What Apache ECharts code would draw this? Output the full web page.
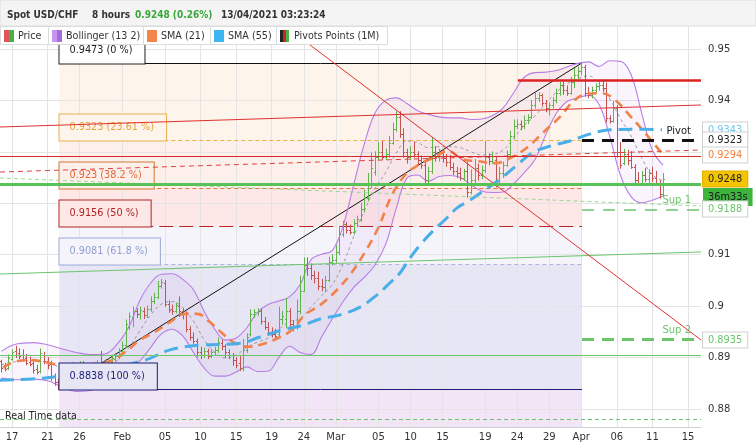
<!DOCTYPE html>
<html><head><meta charset="utf-8">
<script src="https://cdn.jsdelivr.net/npm/echarts@6/dist/echarts.min.js"></script>
<style>html,body{margin:0;padding:0;background:#fff}#c{width:756px;height:445px}</style>
</head><body><div id="c"></div>
<script>
// ---------------- DATA ----------------
// x axis = index of 8-hour bars (0 = Sun 17 Jan 2021, 23h)
const dateLabels   = ['17','21','26','Feb','05','10','15','19','24','Mar','05','10','15','19','24','29','Apr','06','11','15'];
const dateLabelIdx = [0,10,19,31,43,53,63,73,82,91,103,112,121,133,142,151,160,170,180,190];
const yTicks       = [0.88,0.89,0.90,0.91,0.92,0.93,0.94,0.95];
const yLabelValues = [0.88,0.89,0.90,0.91,0.94,0.95];
const X_MIN = -3.373, X_MAX = 193.65, Y_MIN = 0.8765, Y_MAX = 0.95447;
const firstBarIdx = -3;

const opens = [
.8893,.8885,.8880,.8898,.8912,.8908,.8905,.8900,.8892,.8890,
.8878,.8874,.8905,.8893,.8887,.8862,.8852,.8845,.8852,.8860,
.8868,.8880,.8875,.8888,.8880,.8872,.8884,.8878,.8890,.8886,
.8884,.8892,.8898,.8902,.8912,.8925,.8960,.8978,.8990,.8985,
.8990,.8982,.8995,.9010,.9018,.9040,.9045,.9005,.8995,.8990,
.9000,.8990,.8985,.8955,.8940,.8932,.8910,.8905,.8912,.8904,
.8910,.8915,.8928,.8922,.8910,.8905,.8895,.8890,.8880,.8915,
.8945,.8985,.8988,.8990,.8972,.8960,.8950,.8946,.8945,.8975,
.8975,.8990,.8965,.8960,.8990,.9030,.9080,.9075,.9060,.9055,
.9040,.9038,.9050,.9085,.9090,.9105,.9140,.9160,.9148,.9145,
.9162,.9170,.9188,.9210,.9235,.9260,.9290,.9300,.9290,.9295,
.9318,.9345,.9368,.9335,.9300,.9290,.9300,.9296,.9285,.9275,
.9245,.9262,.9300,.9290,.9298,.9288,.9280,.9270,.9262,.9258,
.9250,.9262,.9222,.9245,.9268,.9255,.9265,.9290,.9282,.9285,
.9240,.9258,.9275,.9295,.9330,.9350,.9355,.9350,.9362,.9368,
.9392,.9405,.9410,.9395,.9385,.9392,.9400,.9415,.9430,.9420,
.9415,.9435,.9450,.9458,.9465,.9415,.9410,.9420,.9428,.9430,
.9425,.9365,.9360,.9385,.9300,.9278,.9295,.9285,.9270,.9245,
.9240,.9255,.9248,.9258,.9250,.9240,.9218];
const highs = [
.8895,.8889,.8905,.8915,.8922,.8917,.8915,.8906,.8901,.8896,
.8885,.8917,.8910,.8900,.8893,.8868,.8858,.8860,.8866,.8874,
.8890,.8888,.8892,.8892,.8886,.8888,.8890,.8894,.8912,.8895,
.8897,.8905,.8908,.8917,.8930,.8973,.8987,.8998,.8995,.8998,
.8996,.9000,.9018,.9025,.9048,.9052,.9050,.9010,.9002,.9006,
.9018,.8995,.8988,.8960,.8948,.8936,.8920,.8918,.8916,.8916,
.8920,.8938,.8934,.8925,.8915,.8908,.8900,.8902,.8935,.8946,
.8993,.8993,.8995,.8994,.8978,.8968,.8958,.8955,.8998,.8990,
.9015,.8995,.8972,.9012,.9058,.9094,.9094,.9082,.9068,.9066,
.9052,.9058,.9095,.9100,.9118,.9155,.9165,.9163,.9158,.9168,
.9175,.9200,.9226,.9258,.9298,.9300,.9318,.9320,.9305,.9330,
.9356,.9378,.9378,.9345,.9305,.9310,.9318,.9300,.9292,.9282,
.9270,.9328,.9310,.9305,.9304,.9295,.9293,.9278,.9270,.9268,
.9266,.9280,.9265,.9285,.9276,.9272,.9320,.9296,.9300,.9290,
.9270,.9280,.9302,.9340,.9362,.9362,.9360,.9370,.9372,.9400,
.9415,.9415,.9412,.9400,.9395,.9405,.9422,.9435,.9437,.9428,
.9445,.9462,.9465,.9473,.9468,.9425,.9426,.9432,.9436,.9440,
.9434,.9370,.9398,.9390,.9318,.9305,.9303,.9300,.9275,.9260,
.9262,.9268,.9265,.9270,.9262,.9244,.9258];
const lows = [
.8872,.8874,.8877,.8895,.8900,.8898,.8893,.8886,.8884,.8870,
.8868,.8870,.8888,.8878,.8856,.8846,.8838,.8840,.8848,.8855,
.8862,.8868,.8870,.8872,.8866,.8868,.8870,.8874,.8882,.8876,
.8878,.8888,.8893,.8898,.8905,.8920,.8955,.8960,.8978,.8975,
.8976,.8978,.8990,.9005,.9015,.9035,.9000,.8988,.8984,.8987,
.8980,.8975,.8950,.8934,.8928,.8902,.8898,.8900,.8898,.8900,
.8905,.8910,.8915,.8900,.8898,.8885,.8880,.8875,.8874,.8910,
.8942,.8978,.8982,.8965,.8955,.8944,.8940,.8938,.8942,.8965,
.8958,.8958,.8952,.8955,.8985,.9028,.9060,.9052,.9045,.9032,
.9030,.9028,.9048,.9080,.9085,.9100,.9135,.9142,.9140,.9140,
.9155,.9165,.9183,.9205,.9230,.9255,.9285,.9285,.9285,.9290,
.9315,.9340,.9328,.9290,.9278,.9285,.9290,.9275,.9268,.9240,
.9240,.9258,.9282,.9282,.9280,.9272,.9265,.9256,.9250,.9245,
.9245,.9212,.9218,.9240,.9245,.9248,.9260,.9275,.9278,.9232,
.9236,.9250,.9272,.9290,.9325,.9345,.9343,.9345,.9355,.9365,
.9385,.9398,.9390,.9378,.9372,.9385,.9395,.9410,.9412,.9410,
.9412,.9425,.9442,.9450,.9408,.9405,.9405,.9415,.9420,.9418,
.9358,.9356,.9358,.9290,.9268,.9275,.9275,.9268,.9240,.9236,
.9238,.9242,.9240,.9242,.9235,.9210,.9215];
const closes = [
.8880,.8878,.8900,.8910,.8905,.8903,.8898,.8890,.8888,.8875,
.8872,.8908,.8893,.8885,.8862,.8852,.8845,.8852,.8860,.8868,
.8880,.8875,.8888,.8880,.8872,.8884,.8878,.8890,.8886,.8884,
.8893,.8900,.8903,.8912,.8925,.8965,.8980,.8990,.8985,.8992,
.8982,.8995,.9010,.9018,.9040,.9046,.9005,.8992,.8990,.9002,
.8990,.8985,.8955,.8940,.8932,.8910,.8905,.8912,.8904,.8910,
.8915,.8930,.8922,.8910,.8905,.8895,.8885,.8880,.8915,.8940,
.8985,.8988,.8990,.8972,.8960,.8950,.8946,.8942,.8975,.8980,
.8990,.8965,.8960,.8990,.9030,.9080,.9075,.9060,.9055,.9040,
.9038,.9050,.9085,.9090,.9105,.9140,.9160,.9148,.9145,.9162,
.9170,.9188,.9210,.9235,.9268,.9290,.9300,.9290,.9295,.9318,
.9345,.9368,.9335,.9300,.9290,.9300,.9296,.9285,.9275,.9245,
.9262,.9300,.9290,.9298,.9288,.9280,.9270,.9262,.9258,.9250,
.9262,.9222,.9245,.9268,.9255,.9265,.9290,.9282,.9292,.9240,
.9258,.9275,.9295,.9330,.9350,.9355,.9350,.9362,.9368,.9392,
.9405,.9410,.9395,.9385,.9392,.9400,.9415,.9430,.9420,.9415,
.9435,.9450,.9458,.9465,.9415,.9410,.9420,.9428,.9430,.9425,
.9365,.9360,.9385,.9300,.9275,.9295,.9285,.9270,.9245,.9240,
.9255,.9248,.9258,.9250,.9240,.9218,.9248];

// Bollinger (13,2)
const bbX = [-3,1,6,10,14,18,22,26,30,33,36,39,42,45,48,51,54,57,60,63,66,69,72,75,78,81,84,87,90,93,96,99,102,105,108,111,114,117,120,123,126,129,132,135,138,141,144,147,150,153,156,159,162,165,168,171,174,177,180,183];
const bbUpper = [.8912,.8926,.8929,.8925,.8917,.8910,.8906,.8907,.8930,.8962,.9012,.9045,.9062,.9063,.9052,.9032,.8990,.8955,.8934,.8938,.8958,.8988,.9003,.9010,.9018,.9042,.9090,.9101,.9108,.9155,.9235,.9315,.9375,.9400,.9405,.9394,.9380,.9373,.9368,.9366,.9366,.9363,.9364,.9370,.9385,.9415,.9445,.9454,.9455,.9458,.9465,.9472,.9475,.9466,.9477,.9476,.9450,.9375,.9303,.9274];
const bbMid   = [.8886,.8892,.8894,.8890,.8880,.8872,.8871,.8876,.8897,.8920,.8953,.8983,.9004,.9009,.8997,.8971,.8935,.8910,.8899,.8905,.8920,.8930,.8938,.8955,.8970,.8976,.8998,.9020,.9042,.9081,.9135,.9185,.9228,.9260,.9297,.9321,.9318,.9308,.9310,.9310,.9308,.9300,.9294,.9295,.9303,.9326,.9352,.9370,.9394,.9416,.9432,.9442,.9448,.9432,.9403,.9365,.9331,.9288,.9255,.9244];
const bbLower = [.8860,.8857,.8858,.8855,.8843,.8834,.8836,.8845,.8864,.8878,.8894,.8920,.8946,.8955,.8942,.8910,.8880,.8864,.8864,.8872,.8882,.8873,.8874,.8900,.8922,.8910,.8906,.8940,.8975,.9008,.9036,.9056,.9080,.9120,.9190,.9249,.9255,.9243,.9252,.9254,.9250,.9236,.9224,.9221,.9222,.9238,.9260,.9285,.9333,.9375,.9398,.9405,.9410,.9392,.9330,.9255,.9213,.9201,.9206,.9214];

// SMA lines: [bar index, value]
const sma21 = [[-2.5,.8880],[0.3,.8891],[5.1,.8895],[10.7,.8889],[19.1,.8876],[27.5,.8893],[31.8,.8911],[36,.8934],[40.2,.8950],[44.4,.8969],[48.6,.8985],[52,.8985],[55.6,.8969],[59,.8948],[62.7,.8928],[66.3,.8921],[70.3,.8926],[74.8,.8938],[78.7,.8954],[82.3,.8983],[86.6,.9002],[90.8,.9028],[95,.9061],[99.2,.9105],[102.9,.9152],[106.8,.9216],[110.5,.9255],[114.1,.9274],[118.9,.9290],[122.5,.9302],[126.5,.9286],[130.7,.9282],[135.8,.9278],[140,.9288],[144.7,.9308],[149.2,.9337],[154,.9368],[158.2,.9401],[161.9,.9413],[165.8,.9414],[169.5,.9401],[173.7,.9370],[177.9,.9337],[183,.9294]];
const sma55 = [[-3.4,.8856],[8.7,.8860],[24.7,.8876],[37.4,.8895],[44.4,.8915],[52.8,.8924],[64.1,.8928],[69.7,.8940],[76.2,.8954],[81.8,.8963],[86.6,.8975],[92.2,.8983],[97.8,.8998],[102.6,.9022],[106.2,.9045],[109,.9064],[111.9,.9094],[114.7,.9119],[118,.9144],[121.7,.9168],[125.1,.9191],[128.7,.9206],[132.9,.9226],[137.2,.9247],[141.9,.9274],[146.2,.9298],[151.2,.9311],[156.8,.9321],[162.5,.9335],[168.1,.9343],[175.1,.9344],[182.7,.9343]];

// Fibonacci retracement
const fibLevels = [0.9473, 0.9323, 0.923, 0.9156, 0.9081, 0.8838];
const fibPct    = ['0 %', '23.61 %', '38.2 %', '50 %', '61.8 %', '100 %'];
const fibStartIdx = 13.3, fibEndIdx = 160.2;

// Pivot points (1M)
const pivotNames  = ['Pivot', 'Sup 1', 'Sup 2'];
const pivotValues = [0.9323, 0.9188, 0.8935];
const pivotStartIdx = 160.2;

// Drawn lines: [[x1, y1], [x2, y2]]
const redChannelTop   = [[X_MIN, 0.93483], [X_MAX, 0.93911]];
const redDashedLine   = [[X_MIN, 0.92608], [X_MAX, 0.93036]];
const redFlatLine     = [[X_MIN, 0.92919], [X_MAX, 0.92919]];
const redDownTrend    = [[76.7, 0.95447], [X_MAX, 0.89342]];
const redResistance   = [[142.2, 0.9440], [X_MAX, 0.9440]];
const greenSupport    = [[X_MIN, 0.92375], [X_MAX, 0.92375]];
const greenRising     = [[X_MIN, 0.90625], [X_MAX, 0.91053]];
const greenFlat       = [[X_MIN, 0.8905], [X_MAX, 0.8905]];
const greenDashedDown = [[X_MIN, 0.92492], [X_MAX, 0.91947]];
const greenRealTime   = [[X_MIN, 0.8781], [X_MAX, 0.8781]];
const blackUpTrend    = [[13.3, 0.8838], [160.2, 0.9473]];

// Price tags at right
const tagValues = [0.9343, 0.9323, 0.9294, 0.9248, 0.9188, 0.8935];
const lastPrice = 0.9248;
const countdown = '36m33s';

const headerTexts = ['Spot USD/CHF', '8 hours', '0.9248 (0.26%)', '13/04/2021 03:23:24'];
const legendNames = ['Price', 'Bollinger (13 2)', 'SMA (21)', 'SMA (55)', 'Pivots Points (1M)'];

// ---------------- CHART ----------------
const FONT = '"DejaVu Sans", Verdana, sans-serif';
const HFONT = '"DejaVu Sans Condensed", "DejaVu Sans", sans-serif';
const GREEN = '#5fb34b', RED = '#c4524f';
const chart = echarts.init(document.getElementById('c'), null, {renderer: 'canvas'});

const ohlc = opens.map((o, k) => [firstBarIdx + k, o, closes[k], lows[k], highs[k]]);

const zoneColors = ['#fdf4eb', '#fdefe9', '#fde7e7', '#f5f4fb', '#e7e6f4'];
const zoneData = [];
for (let k = 0; k < fibLevels.length - 1; k++) {
  zoneData.push([{xAxis: fibStartIdx, yAxis: fibLevels[k], itemStyle: {color: zoneColors[k]}},
                 {xAxis: fibEndIdx, yAxis: fibLevels[k + 1]}]);
}
zoneData.push([{xAxis: fibStartIdx, yAxis: fibLevels[fibLevels.length - 1], itemStyle: {color: '#f2e5f5'}},
               {xAxis: fibEndIdx, yAxis: Y_MIN}]);

const fibLineStyles = [
  {color: '#111', width: 1, type: 'solid'},
  {color: '#f0b040', width: 1, type: [4, 3]},
  {color: '#e0783a', width: 1, type: [4, 3]},
  {color: '#b32424', width: 1.2, type: [14, 6]},
  {color: '#aab4dd', width: 1, type: [4, 3]},
  {color: '#1d1d78', width: 1, type: 'solid'}
];
const fibTextColors = ['#222', '#e8a33a', '#e0683a', '#b32424', '#8f9fd0', '#1d1d78'];
const fibBorderColors = ['#222', '#e8b050', '#d07a35', '#b32424', '#9aaad5', '#1d1d78'];
const fibBoxFill = ['#ffffff'].concat(zoneColors);

function seg(pts, style, label) {
  return [{coord: pts[0], lineStyle: style, label: label || {show: false}}, {coord: pts[1]}];
}
// fib tool lines (under the fib labels)
const fibMarks = [];
fibLevels.forEach((v, k) => fibMarks.push(seg([[fibStartIdx, v], [fibEndIdx, v]], fibLineStyles[k])));
fibMarks.push(seg(blackUpTrend, {color: '#111', width: 1, type: 'solid'}));
// user drawings (over the fib labels)
const lineMarks = [];
lineMarks.push(seg(redChannelTop, {color: '#e03030', width: 1, type: 'solid'}));
lineMarks.push(seg(redDashedLine, {color: '#e04040', width: 1, type: [5, 4]}));
lineMarks.push(seg(redFlatLine, {color: '#d42a2a', width: 1, type: 'solid'}));
lineMarks.push(seg(greenRising, {color: '#6cc46c', width: 1, type: 'solid'}));
lineMarks.push(seg(greenFlat, {color: '#6cc46c', width: 1, type: 'solid'}));
lineMarks.push(seg(greenDashedDown, {color: '#9ad89a', width: 1, type: [4, 3]}));
lineMarks.push(seg(greenRealTime, {color: '#6cc46c', width: 1, type: [4, 3]}));
lineMarks.push(seg(redDownTrend, {color: '#e03030', width: 1, type: 'solid'}));
lineMarks.push(seg(greenSupport, {color: '#58c258', width: 3, type: 'solid'}));
lineMarks.push(seg(redResistance, {color: '#dd2222', width: 2.5, type: 'solid'}));
const pivotStyles = [
  {color: '#111', width: 3, type: [12, 8]},
  {color: '#6cc46c', width: 1.5, type: [12, 9]},
  {color: '#6cc46c', width: 3, type: [12, 8]}
];
const pivotLabelColors = ['#222', '#6cc46c', '#6cc46c'];
pivotValues.forEach((v, k) => lineMarks.push(seg([[pivotStartIdx, v], [X_MAX, v]], pivotStyles[k],
  {show: true, position: 'insideEndTop', formatter: pivotNames[k], color: pivotLabelColors[k],
   fontFamily: FONT, fontSize: 10, distance: [10, 4]})));

const tagStyles = [
  {fill: '#6cc8f0', bg: '#fff'}, {fill: '#222', bg: '#fff'}, {fill: '#f0803c', bg: '#fff'},
  {fill: '#222', bg: '#f5c400'}, {fill: '#6cc46c', bg: '#fff'}, {fill: '#6cc46c', bg: '#fff'}
];

const legendCells = [[0, 48], [48, 143], [143, 210], [210, 276], [276, 387]];
const legendIcons = [['#e05555', '#48b048', null], ['#c795ee', '#a86bdc', null], ['#f5844c', '#f5844c', null],
                     ['#3db5f0', '#3db5f0', null], ['#222', '#cc2222', '#48b048']];
const graphics = [
  {type: 'rect', z: 100, shape: {x: 0, y: 0, width: 756, height: 26}, style: {fill: '#f4f4f4', stroke: '#dedede'}},
];
const hx = [7, 92, 135, 221];
headerTexts.forEach((t, k) => graphics.push({type: 'text', z: 101, style: {text: t, x: hx[k], y: 15,
  font: 'bold 10px ' + HFONT, fill: k === 2 ? '#3aa83a' : '#333', verticalAlign: 'middle', align: 'left'}}));
legendCells.forEach((c, k) => {
  graphics.push({type: 'rect', z: 100, shape: {x: c[0] + 0.5, y: 26.5, width: c[1] - c[0], height: 18},
    style: {fill: '#fff', stroke: '#dcdcdc'}});
  const ic = legendIcons[k];
  if (ic[2]) {
    graphics.push({type: 'rect', z: 101, shape: {x: c[0] + 4, y: 30, width: 3, height: 12}, style: {fill: ic[0]}});
    graphics.push({type: 'rect', z: 101, shape: {x: c[0] + 7, y: 30, width: 3, height: 12}, style: {fill: ic[1]}});
    graphics.push({type: 'rect', z: 101, shape: {x: c[0] + 10, y: 30, width: 3, height: 12}, style: {fill: ic[2]}});
  } else {
    graphics.push({type: 'rect', z: 101, shape: {x: c[0] + 4, y: 30, width: 5, height: 12}, style: {fill: ic[0]}});
    graphics.push({type: 'rect', z: 101, shape: {x: c[0] + 9, y: 30, width: 5, height: 12}, style: {fill: ic[1]}});
  }
  graphics.push({type: 'text', z: 101, style: {text: legendNames[k], x: c[0] + 18, y: 36,
    font: '9.6px ' + FONT, fill: '#333', verticalAlign: 'middle', align: 'left'}});
});
graphics.push({type: 'text', z: 101, style: {text: 'Real Time data', x: 5, y: 416,
  font: '9.6px ' + FONT, fill: '#222', verticalAlign: 'middle', align: 'left'}});

const option = {
  animation: false,
  grid: {left: 0, right: 55, top: 26, bottom: 18},
  xAxis: {
    type: 'value', min: X_MIN, max: X_MAX,
    axisLine: {show: true, lineStyle: {color: '#cfcfcf'}},
    axisTick: {show: false},
    axisLabel: {customValues: dateLabelIdx, color: '#333', fontFamily: FONT, fontSize: 10, margin: 5,
      formatter: v => { const k = dateLabelIdx.indexOf(Math.round(v)); return k >= 0 ? dateLabels[k] : ''; }},
    splitLine: {show: false}
  },
  yAxis: {
    type: 'value', position: 'right', min: Y_MIN, max: Y_MAX,
    axisLine: {show: true, lineStyle: {color: '#bdbdbd'}},
    axisTick: {show: true, customValues: yLabelValues, length: 4, lineStyle: {color: '#333'}},
    axisLabel: {customValues: yLabelValues, color: '#333', fontFamily: FONT, fontSize: 10, margin: 7,
      formatter: v => String(+v.toFixed(2))},
    splitLine: {show: false}
  },
  graphic: graphics,
  series: [
    {type: 'line', name: 'zones', data: [], z: 1, silent: true,
     markArea: {z: 1, silent: true, label: {show: false}, data: zoneData}},
    {type: 'line', name: 'grid', data: [], z: 2, silent: true,
     markLine: {z: 2, silent: true, symbol: ['none', 'none'], label: {show: false},
       lineStyle: {color: '#e4e4e4', width: 1, type: 'solid'},
       data: dateLabelIdx.map(v => ({xAxis: v})).concat(yTicks.map(v => ({yAxis: v})))}},
    {type: 'custom', name: 'bbFill', z: 3, silent: true, data: [[bbX[0], bbUpper[0]]],
     renderItem: function (params, api) {
       const pts = [];
       for (let k = 0; k < bbX.length; k++) pts.push(api.coord([bbX[k], bbUpper[k]]));
       for (let k = bbX.length - 1; k >= 0; k--) pts.push(api.coord([bbX[k], bbLower[k]]));
       return {type: 'polygon', shape: {points: pts}, style: {fill: 'rgba(185,120,225,0.08)'}};
     }},
    {type: 'line', name: 'fibLines', data: [], z: 4, silent: true,
     markLine: {z: 4, silent: true, symbol: ['none', 'none'], data: fibMarks}},
    {type: 'line', name: 'bbUpper', z: 5, data: bbX.map((x, k) => [x, bbUpper[k]]), smooth: 0.4, symbol: 'none',
     lineStyle: {color: '#b87de6', width: 1.1}},
    {type: 'line', name: 'bbLower', z: 5, data: bbX.map((x, k) => [x, bbLower[k]]), smooth: 0.4, symbol: 'none',
     lineStyle: {color: '#b87de6', width: 1.1}},
    {type: 'line', name: 'bbMid', z: 5, data: bbX.map((x, k) => [x, bbMid[k]]), smooth: 0.4, symbol: 'none',
     lineStyle: {color: '#9a9a9a', width: 1, type: [3, 3]}},
    {type: 'custom', name: 'Price', z: 6, data: ohlc, encode: {x: 0, y: [1, 2, 3, 4]},
     renderItem: function (params, api) {
       const i = api.value(0), o = api.value(1), c = api.value(2), l = api.value(3), h = api.value(4);
       const pH = api.coord([i, h]), pL = api.coord([i, l]), pO = api.coord([i, o]), pC = api.coord([i, c]);
       const x = Math.round(pH[0]) + 0.5;
       const col = c >= o ? GREEN : RED;
       const st = {stroke: col, lineWidth: 1};
       return {type: 'group', children: [
         {type: 'line', shape: {x1: x, y1: pH[1] - 0.5, x2: x, y2: pL[1] + 0.5}, style: st},
         {type: 'line', shape: {x1: x - 1.6, y1: Math.round(pO[1]) + 0.5, x2: x, y2: Math.round(pO[1]) + 0.5}, style: st},
         {type: 'line', shape: {x1: x, y1: Math.round(pC[1]) + 0.5, x2: x + 1.6, y2: Math.round(pC[1]) + 0.5}, style: st}
       ]};
     }},
    {type: 'line', name: 'SMA21', z: 7, data: sma21, smooth: 0.4, symbol: 'none',
     lineStyle: {color: '#f0824a', width: 2.6, type: [9, 6]}},
    {type: 'line', name: 'SMA55', z: 7, data: sma55, smooth: 0.4, symbol: 'none',
     lineStyle: {color: '#4aaee8', width: 3, type: [14, 7]}},
    {type: 'custom', name: 'fibLabels', z: 8, silent: true, data: fibLevels.map(v => [fibStartIdx, v]),
     renderItem: function (params, api) {
       const k = params.dataIndex;
       const p = api.coord([fibStartIdx, fibLevels[k]]);
       return {type: 'text', x: Math.round(p[0]) + 0.5, y: Math.round(p[1]) + 0.5, style: {
         text: fibLevels[k] + ' (' + fibPct[k] + ')', font: '9.7px ' + FONT, fill: fibTextColors[k],
         backgroundColor: fibBoxFill[k], borderColor: fibBorderColors[k], borderWidth: 1,
         padding: [8, 12, 8, 10], align: 'left', verticalAlign: 'bottom'}};
     }},
    {type: 'line', name: 'drawings', data: [], z: 9, silent: true,
     markLine: {z: 9, silent: true, symbol: ['none', 'none'], data: lineMarks}},
    {type: 'custom', name: 'tags', z: 10, silent: true, clip: false, data: tagValues.map(v => [X_MAX, v]),
     renderItem: function (params, api) {
       const k = params.dataIndex;
       const p = api.coord([X_MAX, tagValues[k]]);
       const kids = [{type: 'text', x: Math.round(p[0]) + 2, y: Math.round(p[1]), style: {
         text: tagValues[k].toFixed(4), font: '9.8px ' + FONT, fill: tagStyles[k].fill,
         backgroundColor: tagStyles[k].bg, borderColor: tagValues[k] === lastPrice ? '#e0b000' : '#cfcfcf', borderWidth: 1,
         padding: [3, 5, 2, 5], align: 'left', verticalAlign: 'middle'}}];
       if (tagValues[k] === lastPrice) {
         kids.push({type: 'text', x: Math.round(p[0]) + 2, y: Math.round(p[1]) + 18, style: {
           text: countdown, font: '9.8px ' + FONT, fill: '#1a1a1a', backgroundColor: '#3db53d',
           padding: [4, 5, 4, 5], align: 'left', verticalAlign: 'middle'}});
       }
       return {type: 'group', children: kids};
     }}
  ]
};
chart.setOption(option);
</script></body></html>
